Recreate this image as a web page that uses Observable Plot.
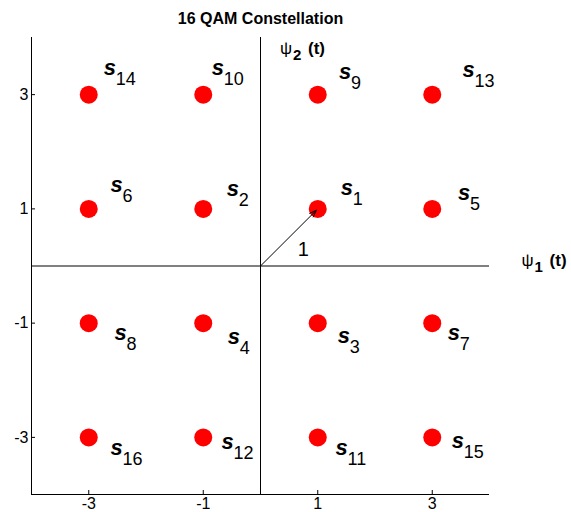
<!DOCTYPE html>
<html><head><meta charset="utf-8">
<script src="https://cdn.jsdelivr.net/npm/d3@7"></script>
<script src="https://cdn.jsdelivr.net/npm/@observablehq/plot@0.6"></script>
<style>body{margin:0;background:#fff}</style>
</head><body><div id="chart"></div>
<script>
const titleText = "16 QAM Constellation";
const symbolIds = [1,2,3,4,5,6,7,8,9,10,11,12,13,14,15,16];
const symbolI = [1,-1,1,-1,3,-3,3,-3,1,-1,1,-1,3,-3,3,-3];
const symbolQ = [1,1,-1,-1,1,1,-1,-1,3,3,-3,-3,3,3,-3,-3];
const labelX = [1.40,-0.59,1.35,-0.57,3.45,-2.62,3.27,-2.55,1.37,-0.85,1.31,-0.68,3.53,-2.74,3.34,-2.62];
const labelY = [1.25,1.23,-1.34,-1.37,1.16,1.29,-1.30,-1.30,3.28,3.35,-3.31,-3.21,3.31,3.35,-3.19,-3.30];
const tickValues = [-3,-1,1,3];
const axisRange = [-4,4];
const basisVector = {x1:0, y1:0, x2:1, y2:1, label:"1", lx:0.65, ly:0.18};
const axisLabels = [
  {x:0.34, y:3.71, sub:"2"},
  {x:4.56, y:0.0, sub:"1"}
];

const pts = symbolIds.map((id,i)=>({id:String(id), I:symbolI[i], Q:symbolQ[i], lx:labelX[i], ly:labelY[i]}));
const font = "'Liberation Sans', Arial, Helvetica, sans-serif";

const chart = Plot.plot({
  width:571, height:512,
  marginLeft:31, marginRight:82, marginTop:37, marginBottom:18,
  style:{fontFamily:font, background:"#fff", overflow:"visible", color:"black"},
  x:{domain:axisRange, axis:null},
  y:{domain:axisRange, axis:null},
  marks:[
    Plot.ruleX([0], {stroke:"black", strokeWidth:1}),
    Plot.ruleY([0], {stroke:"black", strokeWidth:1}),
    Plot.ruleX([axisRange[0]], {stroke:"black", strokeWidth:1}),
    Plot.ruleY([axisRange[0]], {stroke:"black", strokeWidth:1}),
    Plot.axisX({ticks:tickValues, tickSize:-4, tickPadding:7, tickFormat:d=>String(d), fontSize:16, label:null, stroke:"black", fill:"black"}),
    Plot.axisY({ticks:tickValues, tickSize:-4, tickPadding:7, tickFormat:d=>String(d), fontSize:16, label:null, stroke:"black", fill:"black"}),
    Plot.text([basisVector], {x:"lx", y:"ly", text:"label", textAnchor:"start", lineAnchor:"bottom", fontSize:20, fill:"black"}),
    Plot.dot(pts, {x:"I", y:"Q", r:9, fill:"#ff0000", stroke:null}),
    Plot.arrow([basisVector], {x1:"x1", y1:"y1", x2:"x2", y2:"y2", stroke:"black", strokeWidth:1, headLength:11, headAngle:40, insetEnd:2}),
    Plot.text(pts, {x:"lx", y:"ly", text:()=>"s", textAnchor:"start", lineAnchor:"bottom", fontSize:22, fontWeight:"bold", fontStyle:"italic", fill:"black"}),
    Plot.text(pts, {x:"lx", y:"ly", text:"id", textAnchor:"start", lineAnchor:"bottom", fontSize:18, dx:12, dy:10, fill:"black"}),
    Plot.text(axisLabels, {x:"x", y:"y", text:()=>"ψ", textAnchor:"start", lineAnchor:"bottom", fontSize:17, fill:"black"}),
    Plot.text(axisLabels, {x:"x", y:"y", text:"sub", textAnchor:"start", lineAnchor:"bottom", fontSize:15, fontWeight:"bold", dx:13, dy:6, fill:"black"}),
    Plot.text(axisLabels, {x:"x", y:"y", text:()=>"(t)", textAnchor:"start", lineAnchor:"bottom", fontSize:17, fontWeight:"bold", dx:28, fill:"black"}),
    Plot.text([titleText], {frameAnchor:"top", dy:-14, lineAnchor:"bottom", fontSize:16, fontWeight:"bold", fill:"black", text:d=>d, letterSpacing:"-0.3px"})
  ]
});
document.getElementById("chart").appendChild(chart);
</script>
</body></html>
